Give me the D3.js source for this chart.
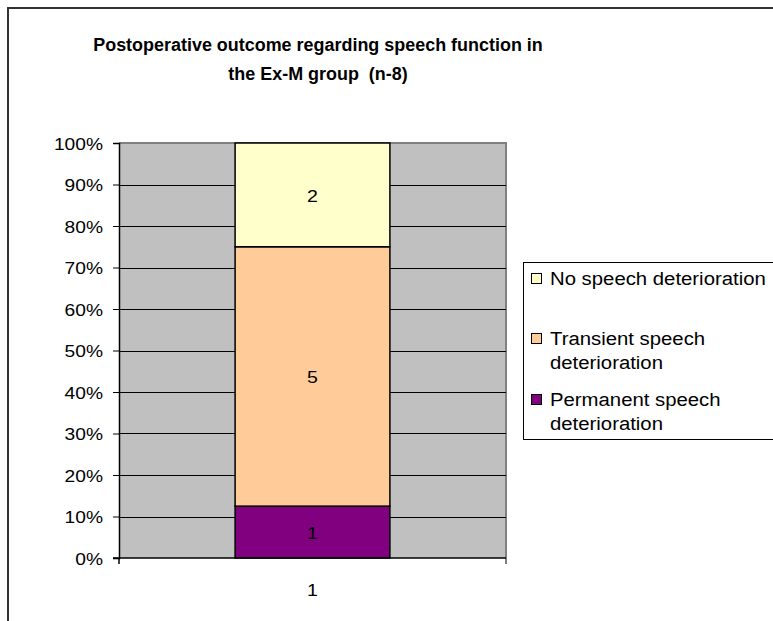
<!DOCTYPE html>
<html>
<head>
<meta charset="utf-8">
<script src="https://cdn.jsdelivr.net/npm/d3@7"></script>
<style>
  html, body { margin: 0; padding: 0; background: #fff; }
  svg { display: block; font-family: Arial, "Liberation Sans", sans-serif; }
  text { white-space: pre; }
</style>
</head>
<body>
<svg id="chart" width="773" height="621"></svg>
<script>
// Patient counts per outcome (n = 8), stacked bottom to top
const categories = ["1"];
const seriesNames = ["Permanent speech deterioration", "Transient speech deterioration", "No speech deterioration"];
const permanent = [1];
const transient = [5];
const noDeterioration = [2];
const seriesColors = ["#800080", "#FFCC99", "#FFFFCC"];
const yTicks = [0, 0.1, 0.2, 0.3, 0.4, 0.5, 0.6, 0.7, 0.8, 0.9, 1.0];
const titleLines = ["Postoperative outcome regarding speech function in", "the Ex-M group  (n-8)"];
const legendLines = [
  ["No speech deterioration"],
  ["Transient speech", "deterioration"],
  ["Permanent speech", "deterioration"]
];

const svg = d3.select("#chart");

const plot = { left: 119, right: 506, top: 143, bottom: 558 };

// outer chart frame (only top and left edges fall inside the view)
svg.append("path")
  .attr("d", "M8,700 L8,8 L800,8")
  .attr("fill", "none").attr("stroke", "#333").attr("stroke-width", 2);

function stretchedText(g, x, y, txt, opts) {
  const sx = opts.sx || 1.15;
  return g.append("text")
    .attr("transform", `translate(${x},${y}) scale(${sx},1)`)
    .attr("text-anchor", opts.anchor || "start")
    .attr("font-size", opts.size)
    .attr("font-weight", opts.weight || "normal")
    .attr("fill", "#000")
    .text(txt);
}

// title
titleLines.forEach((t, i) => {
  stretchedText(svg, 318, 51 + i * 29, t, { anchor: "middle", size: 18.5, weight: "bold", sx: 0.97 });
});

const rows = categories.map((c, i) => ({
  cat: c,
  [seriesNames[0]]: permanent[i],
  [seriesNames[1]]: transient[i],
  [seriesNames[2]]: noDeterioration[i]
}));
const stack = d3.stack().keys(seriesNames).offset(d3.stackOffsetExpand);
const layers = stack(rows);

const x = d3.scaleBand().domain(categories).range([plot.left, plot.right]).paddingInner(0).paddingOuter(0.75);
const y = d3.scaleLinear().domain([0, 1]).range([plot.bottom, plot.top]);

// plot background
svg.append("rect")
  .attr("x", plot.left).attr("y", plot.top)
  .attr("width", plot.right - plot.left).attr("height", plot.bottom - plot.top)
  .attr("fill", "#C0C0C0");
// plot border (top/right grey)
svg.append("path")
  .attr("d", `M${plot.left},${plot.top} L${plot.right},${plot.top} L${plot.right},${plot.bottom + 6}`)
  .attr("fill", "none").attr("stroke", "#808080").attr("stroke-width", 2);

// gridlines
svg.append("g").selectAll("line")
  .data(yTicks.filter(d => d > 0 && d < 1))
  .join("line")
  .attr("x1", plot.left).attr("x2", plot.right)
  .attr("y1", d => Math.round(y(d)) + 0.5).attr("y2", d => Math.round(y(d)) + 0.5)
  .attr("stroke", "#000").attr("stroke-width", 1);

// bars with value labels
const barW = x.bandwidth();
layers.forEach((layer, li) => {
  layer.forEach((seg, i) => {
    const cat = categories[i];
    svg.append("rect")
      .attr("x", x(cat)).attr("y", y(seg[1]))
      .attr("width", barW).attr("height", y(seg[0]) - y(seg[1]))
      .attr("fill", seriesColors[li]).attr("stroke", "#000").attr("stroke-width", 1.5);
    const val = seg.data[layer.key];
    stretchedText(svg, x(cat) + barW / 2, (y(seg[0]) + y(seg[1])) / 2 + 7, String(val), { anchor: "middle", size: 17 });
  });
});

// y axis
const yAxis = d3.axisLeft(y).tickValues(yTicks).tickFormat(d3.format(".0%")).tickSize(6).tickPadding(10);
const yg = svg.append("g").attr("transform", `translate(${plot.left},0)`).call(yAxis);
yg.select(".domain").attr("stroke", "#000").attr("stroke-width", 1.5);
yg.selectAll(".tick line").attr("stroke", "#000");
yg.selectAll(".tick text").remove();
yTicks.forEach(t => {
  stretchedText(svg, plot.left - 16, y(t) + 6.5, d3.format(".0%")(t), { anchor: "end", size: 17, sx: 1.13 });
});

// x axis
svg.append("line")
  .attr("x1", plot.left - 6).attr("x2", plot.right)
  .attr("y1", plot.bottom).attr("y2", plot.bottom)
  .attr("stroke", "#000").attr("stroke-width", 1.5);
svg.append("line")
  .attr("x1", plot.left).attr("x2", plot.left)
  .attr("y1", plot.bottom).attr("y2", plot.bottom + 6)
  .attr("stroke", "#000").attr("stroke-width", 1.5);
categories.forEach(c => {
  stretchedText(svg, x(c) + barW / 2, 596, c, { anchor: "middle", size: 17 });
});

// legend
const lg = svg.append("g");
lg.append("rect")
  .attr("x", 523.5).attr("y", 262.5).attr("width", 300).attr("height", 177)
  .attr("fill", "#fff").attr("stroke", "#000").attr("stroke-width", 1);
const legendBase = [285, 345, 406];
const legendColors = [seriesColors[2], seriesColors[1], seriesColors[0]];
legendLines.forEach((lines, i) => {
  lg.append("rect")
    .attr("x", 531.5).attr("y", legendBase[i] - 11.5)
    .attr("width", 10).attr("height", 10)
    .attr("fill", legendColors[i]).attr("stroke", "#000").attr("stroke-width", 1);
  lines.forEach((t, j) => {
    stretchedText(lg, 550, legendBase[i] + j * 24, t, { size: 18, sx: 1.13 });
  });
});
</script>
</body>
</html>
